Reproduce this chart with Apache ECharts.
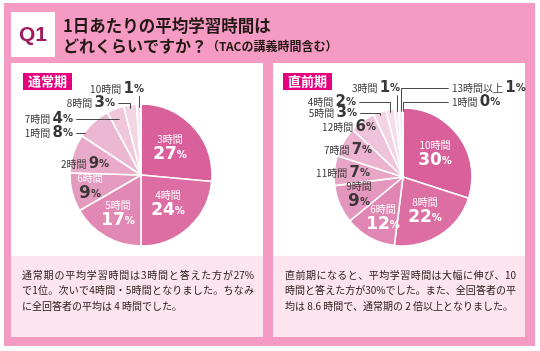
<!DOCTYPE html>
<html><head><meta charset="utf-8">
<script src="https://cdn.jsdelivr.net/npm/echarts@6/dist/echarts.min.js"></script>
<style>html,body{margin:0;padding:0;background:#fff}#c{width:540px;height:351px}</style>
</head><body><div id="c"></div>
<script>
// ---- data ----
const leftCats  = ['3時間','4時間','5時間','6時間','2時間','1時間','7時間','8時間','10時間'];
const leftVals  = [27, 24, 17, 9, 9, 8, 4, 3, 1];
const rightCats = ['10時間','8時間','6時間','9時間','11時間','7時間','12時間','5時間','4時間','3時間','13時間以上','1時間'];
const rightVals = [30, 22, 12, 9, 7, 7, 6, 3, 2, 1, 1, 0];
const leftTitle = '通常期';
const rightTitle = '直前期';
const titleLine1 = '1日あたりの平均学習時間は';
const titleLine2a = 'どれくらいですか？';
const titleLine2b = '（TACの講義時間含む）';
const leftText = ['通常期の平均学習時間は3時間と答えた方が27%', 'で1位。次いで4時間・5時間となりました。ちなみ', 'に全回答者の平均は 4 時間でした。'];
const rightText = ['直前期になると、平均学習時間は大幅に伸び、10', '時間と答えた方が30%でした。また、全回答者の平', '均は 8.6 時間で、通常期の 2 倍以上となりました。'];

// ---- styles / layout ----
const JP = '"Noto Sans CJK JP", sans-serif';
const NUM = '"DejaVu Sans", "Noto Sans CJK JP", sans-serif';
const leftColors  = ['#D9609A','#DD6EA3','#E189B4','#E49ABF','#E9A9C8','#ECB7D1','#F0C6DA','#F4D5E4','#F8E5EE'];
const rightColors = ['#D9609A','#DC6EA2','#E086B2','#E497BE','#E8A6C7','#EBB3CF','#EFC3D9','#F3D2E2','#F6DCE8','#F8E4EE','#FAECF3','#FCF3F7'];
const leftPie  = {c:[141,175], r:71};
const rightPie = {c:[403,177], r:69};
// label placement per slice: [x, y, align, kind, leader]
const leftLabelLayout = [
  [170,148,'center','w'],
  [168,204,'center','w'],
  [118,214,'center','w'],
  [90,187,'center','wd'],
  [85,164,'center','o'],
  [73,133,'right','o','h'],
  [73,119,'right','o','h'],
  [115,103,'right','o','hook'],
  [117,89,'center','o','v']
];
const rightLabelLayout = [
  [435,154,'center','w'],
  [425,211,'center','w'],
  [383,218,'center','w'],
  [359,195,'center','dd'],
  [343,173,'center','o'],
  [348,150,'center','o'],
  [349,127,'center','o'],
  [357,113,'right','o','hook'],
  [356,102,'right','o','hook'],
  [376,88,'center','o','v'],
  [452,88,'left','o','hook'],
  [452,102,'left','o','hook']
];

const DARK = '#3a3536';
const RICH = {
  nW:{color:'#fff', fontSize:10, fontFamily:JP, lineHeight:14},
  nD:{color:DARK, fontSize:10, fontFamily:JP, lineHeight:14},
  vW:{color:'#fff', fontSize:17, fontWeight:'bold', fontFamily:NUM, lineHeight:18},
  vD:{color:DARK, fontSize:17, fontWeight:'bold', fontFamily:NUM, lineHeight:18},
  pW:{color:'#fff', fontSize:10, fontWeight:'bold', fontFamily:NUM, lineHeight:18},
  pD:{color:DARK, fontSize:10, fontWeight:'bold', fontFamily:NUM, lineHeight:18},
  on:{color:DARK, fontSize:10, fontFamily:JP, lineHeight:16},
  ov:{color:DARK, fontSize:15, fontWeight:'bold', fontFamily:NUM, lineHeight:16},
  op:{color:DARK, fontSize:10, fontWeight:'bold', fontFamily:NUM, lineHeight:16}
};

function fmt(kind, name, v){
  if (kind === 'w')  return `{nW|${name}}\n{vW|${v}}{pW|%}`;
  if (kind === 'wd') return `{nW|${name}}\n{vD|${v}}{pD|%}`;
  if (kind === 'dd') return `{nD|${name}}\n{vD|${v}}{pD|%}`;
  return `{on|${name} }{ov|${v}}{op|%}`;
}

function makeData(cats, vals, colors, lay){
  return cats.map((n,i)=>({
    name:n, value:vals[i],
    itemStyle:{color:colors[i]},
    label:{position:'inside', formatter: fmt(lay[i][3], n, vals[i])}
  }));
}

function makeLayout(lay){
  return function(p){
    const L = lay[p.dataIndex];
    return {x:L[0], y:L[1], align:L[2], verticalAlign:'middle'};
  };
}

// leader line point lists, derived from slice angles of the data
const px = v => Math.round(v) + 0.5;
function leaderPoints(vals, geo, lay){
  const total = vals.reduce((a,b)=>a+b,0);
  const starts = [], ends = [];
  let acc = 0;
  vals.forEach(v=>{ starts.push(acc/total*2*Math.PI); acc += v; ends.push(acc/total*2*Math.PI); });
  const [cx,cy] = geo.c, R = geo.r;
  const edgeY = x => cy - Math.sqrt(Math.max(0, R*R-(x-cx)*(x-cx)));
  const out = [];
  lay.forEach((L,i)=>{
    const type = L[4];
    if (!type) return;
    const th = (starts[i]+ends[i])/2;
    const Lx = L[0], Ly = L[1];
    const sx = L[2]==='right' ? Lx+3 : (L[2]==='left' ? Lx-4 : Lx);
    const xm = cx + R*Math.sin(th);
    let pts;
    if (type === 'h'){
      const xe = cx - Math.sqrt(Math.max(0, R*R-(Ly-cy)*(Ly-cy)));
      let phi = Math.atan2(xe-cx, cy-Ly); if (phi<0) phi += 2*Math.PI;
      const ex = (phi >= starts[i] && phi <= ends[i]) ? xe + 1 : cx + (cy-Ly)/Math.cos(th)*Math.sin(th);
      pts = [[sx,Ly],[ex,Ly]];
    } else if (type === 'hook'){
      const ye = edgeY(xm) + 3;
      pts = ye > Ly ? [[sx,Ly],[xm,Ly],[xm,ye]] : [[sx,Ly],[xm,Ly]];
    } else {
      const ye = edgeY(xm) + 3;
      pts = [[xm, Ly+7],[xm,ye]];
    }
    out.push(pts.map(p=>[px(p[0]), px(p[1])]));
  });
  return out;
}
const leaderData = leaderPoints(leftVals, leftPie, leftLabelLayout).concat(leaderPoints(rightVals, rightPie, rightLabelLayout));

function pieSeries(cats, vals, colors, geo, lay){
  return {
    type:'pie', center:geo.c, radius:geo.r, startAngle:90, clockwise:true,
    avoidLabelOverlap:false, silent:true, animation:false, z:5,
    itemStyle:{borderColor:'#fff', borderWidth:1.6},
    label:{overflow:'none', rich:RICH, fontFamily:JP},
    labelLine:{show:false},
    emphasis:{disabled:true},
    data: makeData(cats, vals, colors, lay),
    labelLayout: makeLayout(lay)
  };
}

// justified body text (Japanese style), measured with canvas
const measureCtx = document.createElement('canvas').getContext('2d');
const BODY_FONT = `10px ${JP}`;
measureCtx.font = BODY_FONT;
const TXT = '#231815';
function tokens(s){ return s.match(/[0-9.%]+|./g) || []; }
function bodyText(x0, width, textLines){
  const els = [];
  textLines.forEach((line, li)=>{
    const y = 275 + li*15.5;
    const last = li === textLines.length-1;
    if (last){
      els.push({type:'text', x:x0, y:y, z:3, style:{text:line, fill:TXT, font:BODY_FONT, verticalAlign:'middle'}});
      return;
    }
    const tk = tokens(line);
    const ws = tk.map(t=>measureCtx.measureText(t).width);
    const tot = ws.reduce((a,b)=>a+b,0);
    const gap = (width - tot)/(tk.length-1);
    let x = x0;
    tk.forEach((t,k)=>{
      els.push({type:'text', x:x, y:y, z:3, style:{text:t, fill:TXT, font:BODY_FONT, verticalAlign:'middle'}});
      x += ws[k] + gap;
    });
  });
  return els;
}

const PINK = '#F59AC2', LIGHT = '#FDE4EF', TAG = '#E4007F';
const graphics = [
  {type:'rect', shape:{x:4,y:3,width:531,height:343}, style:{fill:PINK}, z:0},
  {type:'rect', shape:{x:11,y:12,width:44,height:45}, style:{fill:'#fff'}, z:1},
  {type:'rect', shape:{x:11,y:63,width:252,height:193}, style:{fill:'#fff'}, z:1},
  {type:'rect', shape:{x:11,y:256,width:252,height:81}, style:{fill:LIGHT}, z:1},
  {type:'rect', shape:{x:273,y:63,width:252,height:193}, style:{fill:'#fff'}, z:1},
  {type:'rect', shape:{x:273,y:256,width:252,height:81}, style:{fill:LIGHT}, z:1},
  {type:'text', x:33, y:35, z:2, style:{text:'Q1', fill:'#9E1C5F', font:`bold 21px "Liberation Sans", Arial, sans-serif`, align:'center', verticalAlign:'middle'}},
  {type:'text', x:63, y:26, z:2, style:{text:titleLine1, fill:TXT, font:`bold 16.5px ${JP}`, verticalAlign:'middle'}},
  {type:'text', x:63, y:46, z:2, style:{text:`{a|${titleLine2a}}{b|${titleLine2b}}`, verticalAlign:'middle',
    rich:{a:{fill:TXT, font:`bold 16px ${JP}`}, b:{fill:TXT, font:`bold 12px ${JP}`}}}},
  {type:'rect', shape:{x:23,y:73,width:49,height:17}, style:{fill:TAG}, z:2},
  {type:'text', x:47.5, y:81.5, z:3, style:{text:leftTitle, fill:'#fff', font:`bold 13px ${JP}`, align:'center', verticalAlign:'middle'}},
  {type:'rect', shape:{x:283,y:73,width:49,height:17}, style:{fill:TAG}, z:2},
  {type:'text', x:307.5, y:81.5, z:3, style:{text:rightTitle, fill:'#fff', font:`bold 13px ${JP}`, align:'center', verticalAlign:'middle'}}
].concat(
  bodyText(22, 232, leftText),
  bodyText(285, 231, rightText),
  leaderData.map(pts => ({type:'polyline', z:100, silent:true, shape:{points:pts}, style:{stroke:'#4a4a4a', lineWidth:1, fill:null}}))
);

const chart = echarts.init(document.getElementById('c'), null, {renderer:'canvas'});
chart.setOption({
  animation:false,
  graphic: graphics,
  series:[
    pieSeries(leftCats, leftVals, leftColors, leftPie, leftLabelLayout),
    pieSeries(rightCats, rightVals, rightColors, rightPie, rightLabelLayout),
    {
      type:'custom', coordinateSystem:'none', silent:true, animation:false, z:50,
      data: leaderData.map((_, i) => i),
      renderItem: function(params){
        return {type:'polyline', shape:{points: leaderData[params.dataIndex]}, style:{stroke:'#4a4a4a', lineWidth:1, fill:null}};
      }
    }
  ]
});
</script></body></html>
